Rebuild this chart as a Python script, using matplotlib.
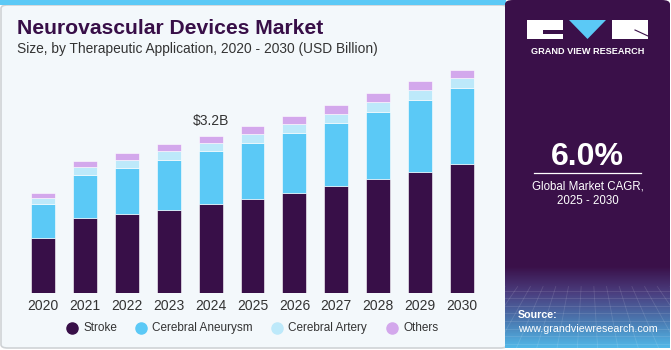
import numpy as np
import matplotlib.pyplot as plt
from matplotlib.patches import FancyBboxPatch, Rectangle, Polygon
from matplotlib.colors import LinearSegmentedColormap
from matplotlib.lines import Line2D

plt.rcParams['font.family'] = ['Liberation Sans', 'DejaVu Sans']

# -------- DATA --------
years = ['2020', '2021', '2022', '2023', '2024', '2025', '2026', '2027', '2028', '2029', '2030']
stroke = [1.13, 1.52, 1.60, 1.70, 1.82, 1.91, 2.04, 2.18, 2.33, 2.47, 2.62]
aneurysm = [0.69, 0.88, 0.95, 1.01, 1.06, 1.14, 1.22, 1.28, 1.36, 1.46, 1.55]
artery = [0.12, 0.16, 0.16, 0.17, 0.17, 0.18, 0.18, 0.18, 0.20, 0.20, 0.21]
others = [0.10, 0.12, 0.14, 0.15, 0.15, 0.17, 0.16, 0.18, 0.17, 0.17, 0.16]
series_names = ['Stroke', 'Cerebral Aneurysm', 'Cerebral Artery', 'Others']
colors = ['#380f48', '#5bc9f6', '#bde9fa', '#d3a8ec']
label_year = '2024'
label_text = '$3.2B'
cagr = '6.0%'
# ----------------------

W, H = 671, 350
fig = plt.figure(figsize=(W / 100, H / 100), dpi=100)
fig.patch.set_facecolor('white')


def px(x, y):
    return x / W, 1 - y / H


# left panel background
fig.patches.append(FancyBboxPatch(px(1, 348), 506 / W, 343 / H,
                                  boxstyle='round,pad=0,rounding_size=0.01',
                                  transform=fig.transFigure, facecolor='#f3f8fb',
                                  edgecolor='#cfd3d6', linewidth=1.2, zorder=-3))
fig.patches.append(Rectangle(px(0, 5), 506 / W, 5 / H, transform=fig.transFigure,
                             facecolor='#5bc9f6', edgecolor='none', zorder=-2))

# right panel
fig.patches.append(FancyBboxPatch(px(505, 348), 165 / W, 348 / H,
                                  boxstyle='round,pad=0,rounding_size=0.012',
                                  transform=fig.transFigure, facecolor='#3a1049',
                                  edgecolor='none', zorder=-1))
gax = fig.add_axes([505 / W, 2 / H, 165 / W, 82 / H])
gax.set_zorder(1)
grad = np.linspace(0, 1, 100).reshape(-1, 1)
cmap = LinearSegmentedColormap.from_list('g', ['#3a1049', '#4b3f80', '#4a78b0', '#52b8e8'])
gax.imshow(grad, aspect='auto', cmap=cmap, origin='upper', extent=[0, 1, 0, 1])
for k in np.linspace(0, 1, 14):
    gax.plot([k, 0.5 + (k - 0.5) * 1.6], [0.75, 0], color='white', alpha=0.12, lw=0.6)
for k in np.linspace(0.05, 0.7, 8):
    gax.plot([0, 1], [k, k], color='white', alpha=0.12, lw=0.6)
gax.set_xlim(0, 1)
gax.set_ylim(0, 1)
gax.axis('off')

# logo
fig.patches.append(Rectangle(px(527, 39), 36 / W, 19 / H, transform=fig.transFigure,
                             facecolor='white', edgecolor='none', zorder=3))
fig.patches.append(Rectangle(px(543, 34), 20 / W, 4 / H, transform=fig.transFigure,
                             facecolor='#3a1049', edgecolor='none', zorder=3))
fig.patches.append(Polygon([px(569, 20), px(606, 20), px(587.5, 39)], transform=fig.transFigure,
                           facecolor='#5bc9f6', edgecolor='none', zorder=3))
fig.patches.append(Rectangle(px(612, 39), 36 / W, 19 / H, transform=fig.transFigure,
                             facecolor='white', edgecolor='none', zorder=3))
fig.add_artist(Line2D([635 / W, 648 / W], [1 - 30 / H, 1 - 36 / H], color='#3a1049', lw=0.8, zorder=4))
fig.text(*px(587.5, 51), 'GRAND VIEW RESEARCH', color='white', fontsize=6.6, fontweight='bold',
         ha='center', va='center', zorder=4)

fig.text(*px(587.5, 157), cagr, color='white', fontsize=23, fontweight='bold', ha='center', va='center')
fig.add_artist(Line2D([534 / W, 641 / W], [1 - 173 / H, 1 - 173 / H], color='white', lw=0.9))
fig.text(*px(587.5, 186), 'Global Market CAGR,', color='white', fontsize=8.3, ha='center', va='center')
fig.text(*px(587.5, 201), '2025 - 2030', color='white', fontsize=8.3, ha='center', va='center')
fig.text(*px(518, 315), 'Source:', color='white', fontsize=7.7, fontweight='bold', ha='left', va='center',
         zorder=4)
fig.text(*px(518, 329), 'www.grandviewresearch.com', color='white', fontsize=7.7, ha='left', va='center',
         zorder=4)

# titles
fig.text(*px(17, 28), 'Neurovascular Devices Market', color='#380f48', fontsize=15.2, fontweight='bold',
         ha='left', va='center')
fig.text(*px(17, 49), 'Size, by Therapeutic Application, 2020 - 2030 (USD Billion)', color='#333333',
         fontsize=9.9, ha='left', va='center')

# chart
ax = fig.add_axes([22 / W, (H - 293.3) / H, 461 / W, 233.3 / H])
ax.set_zorder(2)
ax.set_facecolor('none')
x = np.arange(len(years))
bottom = np.zeros(len(years))
for name, vals, c in zip(series_names, [stroke, aneurysm, artery, others], colors):
    ax.bar(x, vals, bottom=bottom, width=0.57, color=c, edgecolor='#ffffff', linewidth=0.4, label=name)
    bottom += np.array(vals)
ax.set_xlim(-0.5, len(years) - 0.5)
ax.set_ylim(0, 233.3 * 0.0203)
i = years.index(label_year)
ax.text(x[i], bottom[i] + 0.15, label_text, ha='center', va='bottom', fontsize=10, color='#333333')
ax.set_xticks(x)
ax.set_xticklabels(years, fontsize=10, color='#333333')
ax.tick_params(axis='x', length=0, pad=4)
ax.set_yticks([])
for s in ax.spines.values():
    s.set_visible(False)

leg_x = [72, 141, 277, 392]
for lx, name, c in zip(leg_x, series_names, colors):
    fig.add_artist(Line2D([lx / W], [1 - 328 / H], marker='o', markersize=8, color=c, linestyle='none'))
    fig.text((lx + 11) / W, 1 - 328 / H, name, fontsize=8.5, color='#333333', ha='left', va='center')

fig.savefig('out.png', dpi=100, facecolor=fig.get_facecolor())
